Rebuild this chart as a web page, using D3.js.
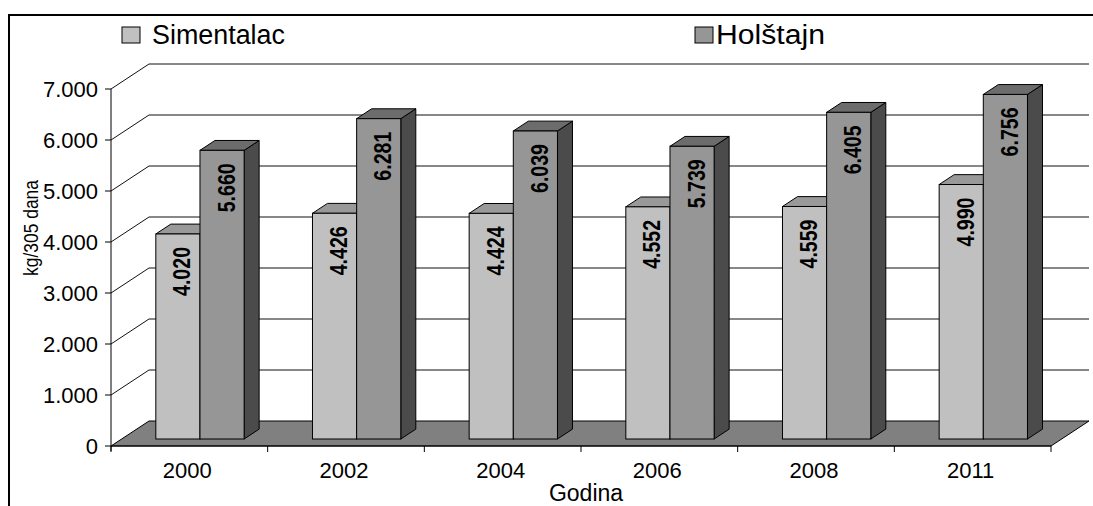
<!DOCTYPE html>
<html>
<head>
<meta charset="utf-8">
<script src="https://cdn.jsdelivr.net/npm/d3@7"></script>
<style>
  body { margin: 0; background: #fff; }
  svg { display: block; font-family: "Liberation Sans", Arial, sans-serif; }
</style>
</head>
<body>
<div class="container"></div>
<script>
var years = ["2000", "2002", "2004", "2006", "2008", "2011"];
var series = ["Simentalac", "Holštajn"];
var simentalac = [4020, 4426, 4424, 4552, 4559, 4990];
var holstajn = [5660, 6281, 6039, 5739, 6405, 6756];
var yTicks = [0, 1000, 2000, 3000, 4000, 5000, 6000, 7000];

var width = 1093, height = 506;
// 3D offsets of the back wall
var depthX = 38, depthY = 25;
var zFront = 0.28, zBack = 0.675;

var faceColors = {
    "Simentalac": { front: "#c0c0c0", top: "#999999", side: "#606060" },
    "Holštajn": { front: "#969696", top: "#6c6c6c", side: "#4b4b4b" }
};

var svg = d3.select('.container')
    .append('svg')
    .attr('width', width)
    .attr('height', height)

// outer frame
svg.append('rect')
    .attr('x', 9).attr('y', 15)
    .attr('width', 1200).attr('height', 600)
    .attr('fill', 'none')
    .attr('stroke', '#000')
    .attr('stroke-width', 2)

var x0 = d3.scaleBand().domain(years).range([111, 1051]).padding(0)
var x1 = d3.scaleBand().domain(series).range([0, x0.bandwidth()])
    .paddingInner(0).paddingOuter(0.774)
var y = d3.scaleLinear().domain([0, 7000]).range([446, 89])

function proj(px, py, z) {
    return [px + z * depthX, py - z * depthY];
}
function poly(pts) {
    return pts.map(function (p) { return p.join(','); }).join(' ');
}

// floor
var x0min = x0.range()[0], x0max = x0.range()[1];
svg.append('polygon')
    .attr('points', poly([proj(x0min, y(0), 0), proj(x0min, y(0), 1),
        proj(x0max, y(0), 1), proj(x0max, y(0), 0)]))
    .attr('fill', '#808080')
    .attr('stroke', '#000')
    .attr('stroke-width', 1)

// gridlines on side wall and back wall
var grid = svg.append('g').attr('class', 'grid')
yTicks.filter(function (t) { return t > 0; }).forEach(function (t) {
    var a = proj(x0min, y(t), 0), b = proj(x0min, y(t), 1), c = proj(x0max, y(t), 1);
    grid.append('polyline')
        .attr('points', poly([a, b, c]))
        .attr('fill', 'none')
        .attr('stroke', '#111')
        .attr('stroke-width', 1)
})

// y axis
svg.append('line')
    .attr('x1', x0min).attr('x2', x0min)
    .attr('y1', y(7000)).attr('y2', y(0) + 5)
    .attr('stroke', '#000')
yTicks.forEach(function (t) {
    svg.append('line')
        .attr('x1', x0min - 6).attr('x2', x0min)
        .attr('y1', y(t)).attr('y2', y(t))
        .attr('stroke', '#000')
    svg.append('text')
        .attr('x', 98).attr('y', y(t))
        .attr('dy', '0.36em')
        .attr('text-anchor', 'end')
        .attr('font-size', '22px')
        .text(t === 0 ? "0" : d3.format(",")(t).replace(/,/g, '.'))
})

// x axis ticks + labels
svg.append('line')
    .attr('x1', x0min).attr('x2', x0max)
    .attr('y1', y(0)).attr('y2', y(0))
    .attr('stroke', '#000')
years.concat(["end"]).forEach(function (yr, i) {
    var xx = x0min + i * x0.step();
    svg.append('line')
        .attr('x1', xx).attr('x2', xx)
        .attr('y1', y(0)).attr('y2', y(0) + 6)
        .attr('stroke', '#000')
})
years.forEach(function (yr) {
    svg.append('text')
        .attr('x', x0(yr) + x0.bandwidth() / 2 - 2)
        .attr('y', 478)
        .attr('text-anchor', 'middle')
        .attr('font-size', '22px')
        .text(yr)
})

// bars
var values = { "Simentalac": simentalac, "Holštajn": holstajn };
var bars = svg.append('g').attr('class', 'bars')
years.forEach(function (yr, i) {
    series.forEach(function (s) {
        var v = values[s][i];
        var left = x0(yr) + x1(s), right = left + x1.bandwidth();
        var top = y(v), bottom = y(0);
        var col = faceColors[s];
        // side face
        bars.append('polygon')
            .attr('points', poly([proj(right, bottom, zFront), proj(right, bottom, zBack),
                proj(right, top, zBack), proj(right, top, zFront)]))
            .attr('fill', col.side).attr('stroke', '#000').attr('stroke-width', 1)
        // top face
        bars.append('polygon')
            .attr('points', poly([proj(left, top, zFront), proj(left, top, zBack),
                proj(right, top, zBack), proj(right, top, zFront)]))
            .attr('fill', col.top).attr('stroke', '#000').attr('stroke-width', 1)
        // front face
        var f0 = proj(left, top, zFront), f1 = proj(right, bottom, zFront);
        bars.append('rect')
            .attr('x', f0[0]).attr('y', f0[1])
            .attr('width', f1[0] - f0[0]).attr('height', f1[1] - f0[1])
            .attr('fill', col.front).attr('stroke', '#000').attr('stroke-width', 1)
        // value label
        var cx = (f0[0] + f1[0]) / 2 + 12.5;
        bars.append('text')
            .attr('transform', 'translate(' + cx + ',' + (f0[1] + 13) + ') rotate(-90)')
            .attr('text-anchor', 'end')
            .attr('font-family', '"Liberation Sans Narrow", "Arial Narrow", "Liberation Sans", sans-serif')
            .attr('font-weight', 'bold')
            .attr('font-size', '24px')
            .attr('textLength', 49)
            .attr('lengthAdjust', 'spacingAndGlyphs')
            .text(d3.format(",")(v).replace(/,/g, '.'))
    })
})

// legend
var legendPos = [{ sx: 122, tx: 152, w: 133 }, { sx: 695, tx: 716, w: 109 }];
series.forEach(function (s, i) {
    var p = legendPos[i];
    svg.append('rect')
        .attr('x', p.sx).attr('y', 27)
        .attr('width', 18).attr('height', 16)
        .attr('fill', faceColors[s].front)
        .attr('stroke', '#000').attr('stroke-width', 1)
    svg.append('text')
        .attr('x', p.tx).attr('y', 44)
        .attr('font-size', '27px')
        .attr('textLength', p.w)
        .attr('lengthAdjust', 'spacingAndGlyphs')
        .text(s)
})

// axis titles
svg.append('text')
    .attr('transform', 'translate(38,228) rotate(-90)')
    .attr('text-anchor', 'middle')
    .attr('font-size', '21px')
    .attr('textLength', 96)
    .attr('lengthAdjust', 'spacingAndGlyphs')
    .text('kg/305 dana')

svg.append('text')
    .attr('x', 586).attr('y', 501)
    .attr('text-anchor', 'middle')
    .attr('font-size', '23px')
    .text('Godina')
</script>
</body>
</html>
